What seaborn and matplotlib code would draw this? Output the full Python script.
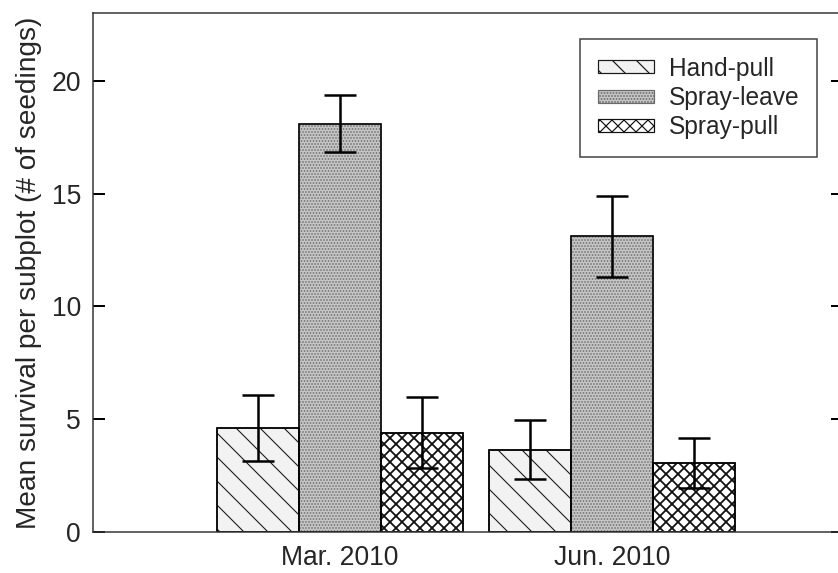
import matplotlib
matplotlib.use("Agg")
import pandas as pd
import matplotlib.pyplot as plt
import matplotlib.patches as mpatches
import seaborn as sns

# Data
months = ["Mar. 2010", "Jun. 2010"]
treatments = ["Hand-pull", "Spray-leave", "Spray-pull"]
hand_pull = [4.6, 3.65]
spray_leave = [18.1, 13.1]
spray_pull = [4.4, 3.05]
hand_pull_se = [1.45, 1.3]
spray_leave_se = [1.27, 1.8]
spray_pull_se = [1.58, 1.12]

means = [hand_pull, spray_leave, spray_pull]
errors = [hand_pull_se, spray_leave_se, spray_pull_se]

rows = []
for t, vals in zip(treatments, means):
    for m, v in zip(months, vals):
        rows.append({"month": m, "treatment": t, "mean": v})
df = pd.DataFrame(rows)

sns.set_style("ticks")
plt.rcParams["font.family"] = ["Liberation Sans", "DejaVu Sans"]
plt.rcParams["hatch.linewidth"] = 1.2

# bar styles
faces = ["#f2f2f2", "#c4c4c4", "#ffffff"]
hatches = ["\\", "....", "xx"]
hatch_edges = ["#1a1a1a", "#6a6a6a", "#111111"]
hatch_lw = [1.1, 1.0, 1.8]

fig = plt.figure(figsize=(838 / 72, 573 / 72), dpi=72)
ax = fig.add_axes([93 / 838, 1 - 532 / 573, 750 / 838, 519 / 573])

sns.barplot(data=df, x="month", y="mean", hue="treatment", order=months,
            hue_order=treatments, errorbar=None, width=0.904, gap=0,
            legend=False, ax=ax)

bar_conts = list(ax.containers)
for i, cont in enumerate(bar_conts):
    xs = []
    for p in cont.patches:
        p.set_facecolor(faces[i])
        p.set_hatch(hatches[i])
        p.set_edgecolor(hatch_edges[i])
        p.set_linewidth(1.5)
        if hasattr(p, "set_hatch_linewidth"):
            p.set_hatch_linewidth(hatch_lw[i])
        # black outline on top of the hatched bar
        ax.add_patch(mpatches.Rectangle(p.get_xy(), p.get_width(), p.get_height(),
                                        fill=False, edgecolor="black", linewidth=1.5,
                                        zorder=p.get_zorder() + 0.1))
        xs.append(p.get_x() + p.get_width() / 2)
    ax.errorbar(xs, means[i], yerr=errors[i], fmt="none", ecolor="black",
                elinewidth=2.5, capsize=16, capthick=2.5, zorder=5)

ax.set_xlim(-0.908, 1.849)
ax.set_ylim(0, 23)
ax.set_yticks([0, 5, 10, 15, 20])
ax.set_xlabel("")
ax.set_ylabel("Mean survival per subplot (# of seedings)", fontsize=28, labelpad=9)
ax.tick_params(axis="y", direction="in", right=True, length=12, width=2,
               labelsize=26.5, pad=12, color="black")
ax.tick_params(axis="x", length=0, labelsize=26.5, pad=13)
for s in ax.spines.values():
    s.set_linewidth(1.5)
    s.set_color("#333333")

handles = []
for i, t in enumerate(treatments):
    h = mpatches.Patch(facecolor=faces[i], edgecolor=hatch_edges[i], hatch=hatches[i],
                       linewidth=1.2, label=t)
    handles.append(h)
leg = ax.legend(handles=handles, loc="upper right",
                bbox_to_anchor=(817 / 838, 1 - 39 / 573),
                bbox_transform=fig.transFigure, borderaxespad=0, fontsize=24.5,
                handlelength=2.3, handleheight=0.45, handletextpad=0.6,
                labelspacing=0.22, borderpad=0.72, fancybox=False, framealpha=1)
leg.get_frame().set_edgecolor("#404040")
leg.get_frame().set_linewidth(1.5)

fig.savefig("out.png", dpi=72, facecolor="white")
